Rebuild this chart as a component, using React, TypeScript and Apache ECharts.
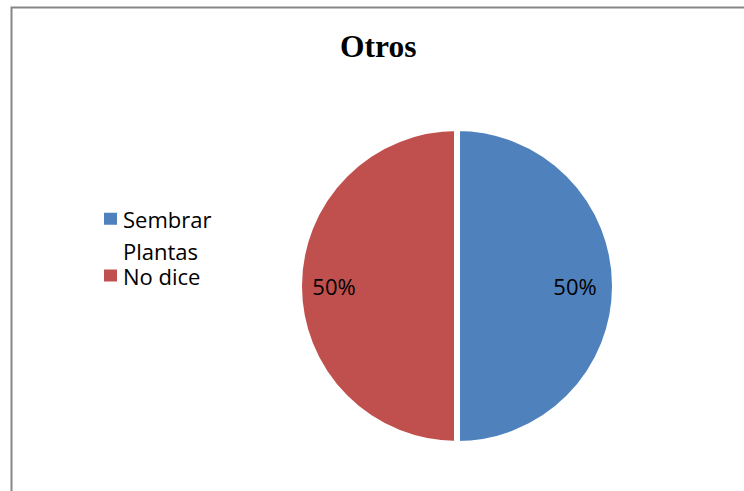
import React, { useEffect, useRef } from "react";
import * as echarts from "echarts";

const categories = ["Sembrar Plantas", "No dice"];
const values = [50, 50];
const colors = ["#4F81BD", "#C0504D"];
const titleText = "Otros";

export default function App() {
  const ref = useRef<HTMLDivElement>(null);
  useEffect(() => {
    const chart = echarts.init(ref.current!, null, { renderer: "svg" });
    const data = categories.map((name, i) => ({
      name,
      value: values[i],
      itemStyle: { color: colors[i] },
    }));
    const L = 32.5;
    chart.setOption({
      animation: false,
      backgroundColor: "#ffffff",
      title: {
        text: titleText,
        left: 340,
        top: 30,
        padding: 0,
        textStyle: {
          fontFamily: "Liberation Serif",
          fontWeight: "bold",
          fontSize: 31.5,
          color: "#000",
        },
      },
      legend: {
        orient: "vertical",
        left: 102,
        top: 170,
        padding: 0,
        itemWidth: 15,
        itemHeight: 14,
        itemGap: -3,
        icon: "rect",
        formatter: (name: string) =>
          name === categories[0] ? "\n" + name.replace(" ", "\n") : name,
        textStyle: {
          fontFamily: "Open Sans",
          fontSize: 22,
          color: "#000",
        },
        data: [
          { name: categories[0], textStyle: { lineHeight: L } },
          { name: categories[1], textStyle: { lineHeight: 14 } },
        ],
      },
      graphic: [
        {
          type: "rect",
          shape: { x: 11.5, y: 7.5, width: 900, height: 700 },
          style: { fill: "none", stroke: "#878787", lineWidth: 2 },
          silent: true,
          z: 100,
        },
      ],
      series: [
        {
          type: "pie",
          center: [457, 286],
          radius: 158,
          startAngle: 90,
          clockwise: true,
          data,
          itemStyle: { borderColor: "#ffffff", borderWidth: 6 },
          label: { show: false },
          labelLine: { show: false },
          emphasis: { disabled: true },
        },
        {
          type: "pie",
          center: [457, 286],
          radius: [85, 155],
          startAngle: 90,
          clockwise: true,
          silent: true,
          data: categories.map((name, i) => ({
            name,
            value: values[i],
            itemStyle: { color: "rgba(0,0,0,0)" },
          })),
          label: {
            show: true,
            position: "inside",
            formatter: "{d}%",
            fontFamily: "Open Sans",
            fontSize: 22,
            color: "#000",
          },
          labelLayout: (params: any) =>
            params.dataIndex === 0 ? { dx: -5 } : {},
          labelLine: { show: false },
          emphasis: { disabled: true },
        },
      ],
    });
    return () => chart.dispose();
  }, []);
  return (
    <div
      ref={ref}
      style={{ position: "fixed", left: 0, top: 0, width: 744, height: 491 }}
    />
  );
}
